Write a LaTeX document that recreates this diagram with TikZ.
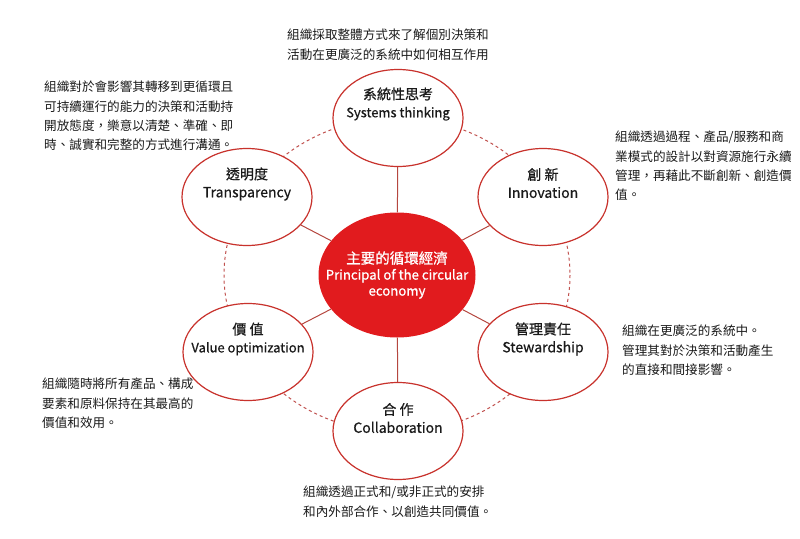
\documentclass[tikz,border=0pt]{standalone}
\usepackage{fontspec}
\setmainfont{Noto Sans CJK TC}
\newfontfamily\titlefont[FakeBold=0.6]{Noto Sans CJK TC}
\newfontfamily\corefont[FakeBold=1.0]{Noto Sans CJK TC}
\usetikzlibrary{shapes.geometric}
\definecolor{ringred}{HTML}{C8322C}
\definecolor{corered}{HTML}{E11B1E}
\definecolor{spokered}{HTML}{B5473F}
\definecolor{dashred}{HTML}{C0504D}
\definecolor{txt}{HTML}{1A1A1A}
\tikzset{
  outer/.style={ellipse, draw=ringred, line width=1.2pt, fill=white,
    minimum width=130pt, minimum height=97pt, inner sep=0pt},
  core/.style={ellipse, fill=corered, minimum width=157pt, minimum height=125pt,
    inner sep=0pt},
  titletext/.style={align=center, inner sep=0pt, text=txt,
    font=\titlefont\fontsize{14}{18}\selectfont},
  coretext/.style={align=center, inner sep=0pt, text=white,
    font=\corefont\fontsize{13.2}{16}\selectfont},
  spoke/.style={draw=spokered, line width=1pt},
  ring/.style={draw=dashred, line width=1pt, dash pattern=on 3pt off 3pt},
  desc/.style={anchor=north west, align=left, inner sep=0pt, text=txt,
    font=\fontsize{12.6}{19.2}\selectfont},
}
\newcommand{\smallen}[1]{{\fontsize{13}{18}\selectfont #1}}
\begin{document}
\begin{tikzpicture}[x=1pt,y=-1pt]
\useasboundingbox (0,0) rectangle (800,538);
\draw[ring] (397,275) ellipse (173 and 157);
\node[core] (c) at (397,275) {};
\node[outer] (st) at (398,118) {};
\node[outer] (in) at (543,197) {};
\node[outer] (sw) at (543,352) {};
\node[outer] (co) at (398,431) {};
\node[outer] (va) at (248,352) {};
\node[outer] (tr) at (247,197) {};
\foreach \n in {st,in,sw,co,va,tr} \draw[spoke] (c) -- (\n);
\node[coretext] (cT) at (c.center) {{\fontsize{14.5}{16}\selectfont 主要的循環經濟}\\Principal of the circular\\economy};
\node[titletext] (stT) at ([yshift=14pt]st.center) {系統性思考\\\smallen{Systems thinking}};
\node[titletext] (inT) at ([yshift=14pt]in.center) {創\ 新\\Innovation};
\node[titletext] (swT) at ([yshift=13pt]sw.center) {管理責任\\Stewardship};
\node[titletext] (coT) at ([yshift=13pt]co.center) {合\ 作\\Collaboration};
\node[titletext] (vaT) at ([yshift=13pt]va.center) {價\ 值\\\smallen{Value optimization}};
\node[titletext] (trT) at ([yshift=13pt]tr.center) {透明度\\Transparency};
\node[desc] (dst) at (287,29) {組織採取整體方式來了解個別決策和\\活動在更廣泛的系統中如何相互作用};
\node[desc] (dtr) at (44,81) {組織對於會影響其轉移到更循環且\\可持續運行的能力的決策和活動持\\開放態度，樂意以清楚、準確、即\\時、誠實和完整的方式進行溝通。};
\node[desc] (din) at (615,131) {組織透過過程、產品/服務和商\\業模式的設計以對資源施行永續\\管理，再藉此不斷創新、創造價\\值。};
\node[desc] (dsw) at (622,325) {組織在更廣泛的系統中。\\管理其對於決策和活動產生\\的直接和間接影響。};
\node[desc] (dva) at (42,378) {組織隨時將所有產品、構成\\要素和原料保持在其最高的\\價值和效用。};
\node[desc] (dco) at (303,486) {組織透過正式和/或非正式的安排\\和內外部合作、以創造共同價值。};
\end{tikzpicture}
\end{document}
